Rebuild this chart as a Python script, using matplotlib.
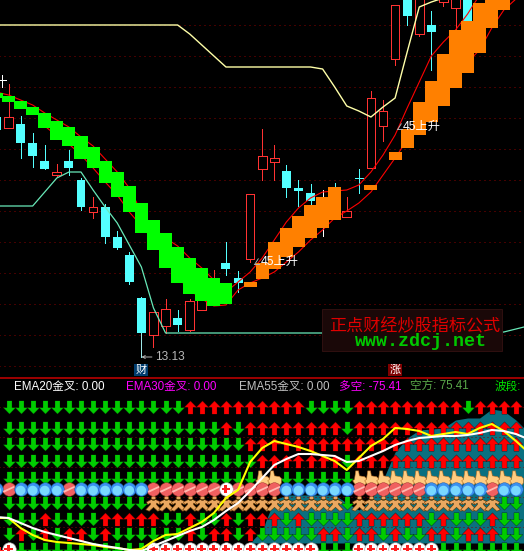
import numpy as np
import matplotlib
matplotlib.use("Agg")
import matplotlib.pyplot as plt
from matplotlib.path import Path
from matplotlib.patches import Rectangle

plt.rcParams['font.family'] = ['Liberation Sans', 'Noto Sans CJK SC', 'DejaVu Sans']

# K-line data, bar index / high / low / open / close
bar_idx = [-1, -0.54, 0, 1, 2, 3, 4, 5, 6, 7, 8, 9, 10, 11, 12, 13, 14, 15, 16, 17, 18, 19, 20,
           21, 22, 23, 24, 25, 26, 27, 28, 29, 30, 31, 32, 33, 34, 35, 36, 37, 38]
highs = [25.48, 27.23, 26.78, 25.18, 24.33, 23.73, 22.78, 23.48, 22.08, 21.13, 20.78, 19.43, 18.38, 16.13, 15.38,
         16.03, 15.48, 16.03, 16.33, 17.48, 18.88, 17.43, 21.28,
         24.53, 23.73, 22.73, 21.98, 21.78, 21.48, 21.83, 21.13, 22.53, 26.43, 25.98, 30.73, 31.23, 31.23, 30.43,
         31.23, 31.23, 31.23]
lows = [24.23, 26.63, 24.58, 23.08, 22.63, 22.53, 22.18, 22.23, 20.48, 20.08, 18.83, 18.53, 16.78, 13.13, 13.63,
        14.33, 14.43, 14.43, 15.48, 15.98, 17.23, 16.38, 17.88,
        21.98, 21.98, 21.13, 20.68, 20.73, 19.18, 20.23, 20.13, 21.33, 22.58, 23.93, 27.73, 29.73, 29.18, 27.48,
        30.68, 29.53, 29.73]
opens = [25.13, 26.98, 24.58, 24.78, 23.83, 22.93, 22.23, 22.93, 21.98, 20.38, 20.63, 19.13, 18.23, 16.08, 14.23,
         14.68, 15.08, 14.48, 15.48, 15.98, 17.83, 17.08, 18.03,
         22.53, 22.88, 22.43, 21.58, 21.33, 20.98, 21.48, 20.13, 22.08, 22.58, 24.68, 28.03, 31.23, 29.28, 29.73,
         30.88, 30.58, 31.23]
closes = [24.48, 26.98, 25.13, 23.83, 23.18, 22.53, 22.38, 22.58, 20.63, 20.63, 19.13, 18.58, 16.88, 14.33, 15.38,
          15.53, 14.73, 15.93, 16.33, 16.73, 17.53, 16.83, 21.28,
          23.18, 23.08, 21.58, 21.43, 20.93, 20.98, 20.98, 20.43, 22.08, 26.08, 25.43, 30.73, 30.18, 31.23, 29.38,
          31.23, 31.23, 29.93]

# band blocks, green going down and orange going up
green_idx = list(range(-1, 19))
green_top = [26.33, 26.18, 25.93, 25.63, 25.33, 24.93, 24.63, 24.18, 23.63, 22.93, 22.38, 21.68, 20.83, 19.98,
             19.33, 18.63, 18.08, 17.58, 17.08, 16.83]
green_bot = [26.08, 25.88, 25.53, 25.23, 24.58, 23.98, 23.68, 23.03, 22.58, 21.83, 21.13, 20.38, 19.33, 18.48,
             17.58, 16.83, 16.28, 15.93, 15.68, 15.78]
orange_idx = [20, 21, 22, 23, 24, 25, 26, 27, 30, 32, 33, 34, 35, 36, 37, 38, 39, 40, 41]
orange_top = [16.88, 17.83, 18.88, 19.58, 20.18, 20.73, 21.13, 21.63, 21.73, 23.38, 24.53, 25.88, 26.93, 28.28,
              29.48, 29.93, 30.83, 31.48, 31.98]
orange_bot = [16.63, 17.03, 17.53, 18.13, 18.63, 19.08, 19.58, 19.98, 21.48, 22.98, 23.58, 24.23, 24.88, 25.68,
              26.58, 27.33, 28.33, 29.58, 30.48]

# thin red averages
ma_upper_idx = list(range(-1, 41))
ma_upper = [26.38, 26.23, 25.98, 25.73, 25.33, 24.98, 24.63, 24.13, 23.68, 23.03, 22.38, 21.58, 20.38, 19.58, 19.08,
            18.68, 18.08, 17.58, 16.98, 16.38, 16.88, 17.38, 18.08, 18.98, 19.88, 20.58, 21.08, 21.38, 21.43, 21.48,
            21.73, 22.38, 23.23, 24.23, 25.58, 26.88, 28.18, 28.88, 29.48, 30.28, 31.23, 31.5]
ma_lower_idx = list(range(3, 43))
ma_lower = [24.68, 24.18, 23.78, 23.23, 22.58, 21.88, 21.23, 20.38, 19.68, 18.98, 18.08, 17.13, 16.48, 16.03, 15.68,
            15.73, 16.48, 16.83, 17.08, 17.38, 17.88, 18.38, 18.98, 19.48, 20.08, 20.43, 20.83, 21.38, 22.23, 23.08,
            23.98, 25.08, 25.98, 26.73, 27.48, 27.88, 28.48, 29.58, 30.48, 31.03]

pale_idx = list(range(-1, 37))
pale_line = [29.73] * 16 + [29.28, 28.73, 28.18] + [27.63] * 8 + [27.53, 26.63, 25.68, 25.43, 25.13, 25.63, 26.08,
                                                                   28.38, 30.63, 30.88, 31.08]
mint_idx = list(range(-1, 44))
mint_line = [20.68, 20.68, 20.68, 20.68, 21.38, 22.08, 22.38, 22.38, 21.48, 20.63, 19.83, 18.73, 17.63, 15.58] \
            + [14.33] * 28 + [14.38, 14.53, 14.68]

grid_prices = [29.72, 28.17, 26.62, 25.07, 23.52, 21.97, 20.42, 18.87, 17.32, 15.77, 14.22, 12.67]

# lower panel
sub_idx = list(range(-1, 44))
sub_yellow = [33, 33, 23, 16, 11, 9, 8, 7, 6, 4, 3, 1, 2, 10, 16, 17, 23, 29, 38, 53, 61, 89, 103, 110, 107, 104, 100,
              95, 90, 81, 93, 105, 112, 123, 122, 120, 115, 117, 119, 117, 123, 127, 120, 110, 99]
sub_white = [34, 33, 28, 23, 19, 16, 13, 10, 7, 5, 3, 1, 0, 5, 10, 15, 20, 24, 31, 40, 48, 60, 73, 86, 92, 97, 97, 96,
             95, 89, 90, 95, 100, 106, 110, 113, 114, 115, 115, 116, 118, 121, 120, 117, 112]
mountain_idx = list(range(20, 44))
mountain = [8, 21, 51, 56, 56, 56, 56, 56, 48, 41, 51, 71, 99, 113, 121, 122, 123, 131, 133, 133, 142, 140, 131, 119]
sub_grid = [144, 114, 84, 54, 24]

# signal rows: D down, U up, H hand, F figure, C cross ball
signal_rows = {
    144: "D" * 15 + "U" * 6 + "UUUUDDDDUUUUUUUUUDUUUU",
    123: "D" * 18 + "UDU" + "U" * 7 + "D" + "U" * 14,
    107: "D" * 20 + "U" * 23,
    90: "D" * 21 + "U" * 7 + "D" + "U" * 14,
    73: "D" * 21 + "HH" + "D" * 6 + "H" * 14,
    48: "D" * 12 + "F" * 16 + "D" + "F" * 12 + "DD",
    32: "DDDUDDDDUUUUUD" + "DUDDUDUUUDUDDDD" + "UUUUUUDUDDDUDD",
    17: "DUDUDUUDUDDDDD" + "DUDUUDUDDDDDUUD" + "UUDUDDUUDUUUDD",
    2: "C" + "D" * 11 + "C" * 14 + "DDD" + "C" * 7 + "D" * 7,
}
ball_level = 62
ball_row = "B" + "R" + "BBBB" + "R" + "B" * 6 + "R" * 6 + "W" + "R" * 4 + "B" * 6 + "R" * 6 + "B" * 5 + "R" + "BB"

RED = '#ff3232'
CYAN = '#54ffff'

fig = plt.figure(figsize=(5.24, 5.51), dpi=100, facecolor='black')
ax = fig.add_axes([0, 173 / 551, 1, 378 / 551])
sub = fig.add_axes([0, 0, 1, 173 / 551])
for a in (ax, sub):
    a.set_facecolor('black')
    a.set_xlim(-0.704, 42.67)
    a.axis('off')
ax.set_ylim(12.08, 30.98)
sub.set_ylim(0, 173)

ax.hlines(grid_prices, -1, 44, colors='#8a0000', linewidth=0.72, linestyles=(0, (1, 4)), zorder=1)

# candles
for x, h, l, o, c in zip(bar_idx, highs, lows, opens, closes):
    if x in (-0.54, 26):
        color = '#ffffff'
    elif c >= o and x != 29:
        color = RED
    else:
        color = CYAN
    ax.vlines(x, l, h, colors=color, linewidth=0.72, antialiased=False, zorder=2)
    if c > o:
        ax.bar(x, c - o, bottom=o, width=0.72, facecolor='black', edgecolor=color, linewidth=0.72, zorder=2.1,
               antialiased=False)
    elif c < o:
        ax.bar(x, o - c, bottom=c, width=0.74, facecolor=color, linewidth=0, zorder=2.1, antialiased=False)
    else:
        ax.hlines(c, x - 0.36, x + 0.36, colors=color, linewidth=0.72, antialiased=False, zorder=2.1)

ax.plot(ma_upper_idx, ma_upper, color='#ff0000', lw=0.8, zorder=3)
ax.plot(ma_lower_idx, ma_lower, color='#ff0000', lw=0.8, zorder=3)

ax.bar(green_idx, np.array(green_top) - np.array(green_bot), bottom=green_bot, width=1.08, color='#00ff00',
       linewidth=0, antialiased=False, zorder=4)
ax.bar(orange_idx, np.array(orange_top) - np.array(orange_bot), bottom=orange_bot, width=1.08, color='#ff8000',
       linewidth=0, antialiased=False, zorder=4)

ax.plot(pale_idx, pale_line, color='#ffffa8', lw=1.0, zorder=5)
ax.plot(mint_idx, mint_line, color='#68e8b8', lw=0.9, zorder=5)

# labels on the price panel
ax.text(20.2, 17.88, "∠", color='#b8b8b8', fontsize=6.5, family='DejaVu Sans', va='center', zorder=7)
ax.text(20.85, 17.88, "45上升", color='white', fontsize=8.8, va='center', zorder=7)
ax.text(32.0, 24.63, "∠", color='#b8b8b8', fontsize=6.5, family='DejaVu Sans', va='center', zorder=7)
ax.text(32.65, 24.63, "45上升", color='white', fontsize=8.8, va='center', zorder=7)
ax.annotate("13.13", xy=(11, 13.13), xytext=(12.1, 13.13), color='#b8b8b8', fontsize=8.6, va='center', zorder=7,
            arrowprops=dict(arrowstyle='->', color='#b8b8b8', lw=0.7, shrinkA=0, shrinkB=0, mutation_scale=5))
ax.vlines(11, 13.13, 14.33, colors='#9fe8e8', linewidth=0.72, zorder=2)
ax.text(11, 12.48, "财", color='white', fontsize=8, ha='center', va='center', zorder=7,
        bbox=dict(facecolor='#003c6e', edgecolor='none', pad=1.0))
ax.text(32, 12.48, "涨", color='white', fontsize=8, ha='center', va='center', zorder=7,
        bbox=dict(facecolor='#800000', edgecolor='none', pad=1.0))

# watermark box
fig.add_artist(Rectangle((322 / 524, 1 - 351 / 551), 180 / 524, 42 / 551, transform=fig.transFigure,
                         facecolor='#1a0808', edgecolor='#301010', linewidth=0.7, zorder=10))
fig.text(415 / 524, 1 - 326 / 551, "正点财经炒股指标公式", color='#e00000', fontsize=12.3, ha='center', va='center',
         family='Noto Sans CJK SC', fontweight='medium', zorder=11)
fig.text(421 / 524, 1 - 342 / 551, "www.zdcj.net", color='#00c800', fontsize=13.2, ha='center', va='center',
         family='Liberation Mono', fontweight='bold', zorder=11)

# panel separator and header texts
fig.add_artist(plt.Line2D([0, 1], [173 / 551, 173 / 551], color='#c80000', lw=1.1, zorder=9))
header = [(14, "EMA20金叉: 0.00", 'white'), (126, "EMA30金叉: 0.00", '#ff00ff'), (239, "EMA55金叉: 0.00", '#c0c0c0'),
          (339, "多空: -75.41", '#ff00ff'), (410, "空方: 75.41", '#5aa84a'), (495, "波段:", '#00e000')]
for x, s, c in header:
    fig.text(x / 524, 1 - 387 / 551, s, color=c, fontsize=8.4, va='center', zorder=11)

# lower panel
sub.fill_between(mountain_idx, 8, mountain, color='#0a7080', linewidth=0, zorder=1)
sub.hlines(sub_grid, -1, 44, colors='#8a0000', linewidth=0.72, linestyles=(0, (1, 3)), zorder=1.5)

arrow_up = Path([(0, 1), (0.95, 0.02), (0.38, 0.02), (0.38, -1), (-0.38, -1), (-0.38, 0.02), (-0.95, 0.02), (0, 1)])
arrow_down = Path([(0, -1), (0.95, -0.02), (0.38, -0.02), (0.38, 1), (-0.38, 1), (-0.38, -0.02), (-0.95, -0.02), (0, -1)])
person = Path.make_compound_path(
    Path.circle((0, 0.7), 0.3),
    Path([(-0.3, 0.5), (0.3, 0.5), (0.9, 0.2), (0.75, -0.15), (0.4, 0.05), (0.4, -0.15), (1, -0.8), (0.55, -1),
          (0, -0.5), (-0.55, -1), (-1, -0.8), (-0.4, -0.15), (-0.4, 0.05), (-0.75, -0.15), (-0.9, 0.2),
          (-0.3, 0.5)]))
hand = Path([(-0.5, 1), (-0.12, 1), (-0.02, 0.35), (0.65, 0.25), (0.9, 0), (0.9, -0.6), (0.6, -1), (-0.4, -1),
             (-0.9, -0.3), (-0.65, -0.1), (-0.5, 1)])
stripe = Path([(-0.85, -0.3), (0.8, 0.45), (0.85, 0.2), (-0.7, -0.55), (-0.85, -0.3)])

for level, row in signal_rows.items():
    xs = np.arange(len(row))
    chars = np.array(list(row))
    for ch, marker, face, edge, size, lw in [
        ('U', arrow_up, '#ff0000', 'black', 92, 0.2),
        ('D', arrow_down, '#00cc00', 'black', 92, 0.2),
        ('F', person, '#eaa860', '#5a3000', 125, 0.4),
        ('H', hand, '#ffcc80', '#b06820', 120, 0.4),
    ]:
        m = chars == ch
        sub.scatter(xs[m], np.full(m.sum(), level), marker=marker, s=size, facecolor=face, edgecolor=edge,
                    linewidth=lw, zorder=3)
    m = chars == 'C'
    sub.scatter(xs[m], np.full(m.sum(), level), marker='o', s=95, facecolor='white', edgecolor='#a0a0a0', linewidth=0.4,
                zorder=4)
    sub.scatter(xs[m], np.full(m.sum(), level), marker='P', s=40, facecolor='#ff2020', edgecolor='none', zorder=4.1)

ball_x = np.arange(-1, len(ball_row) - 1)
ball_chars = np.array(list(ball_row))
m = ball_chars == 'R'
sub.scatter(ball_x[m], np.full(m.sum(), ball_level), marker='o', s=95, facecolor='#f06060', edgecolor='#902020',
            linewidth=0.3, zorder=4)
sub.scatter(ball_x[m], np.full(m.sum(), ball_level), marker=stripe, s=70, facecolor='#ffb8b0', edgecolor='none', zorder=4.1)
m = ball_chars == 'B'
sub.scatter(ball_x[m], np.full(m.sum(), ball_level), marker='o', s=95, facecolor='#3a90f0', edgecolor='#18509a',
            linewidth=0.3, zorder=4)
sub.scatter(ball_x[m], np.full(m.sum(), ball_level - 1.5), marker='o', s=48, facecolor='#78d8ff', edgecolor='none', zorder=4.1)
m = ball_chars == 'W'
sub.scatter(ball_x[m], np.full(m.sum(), ball_level), marker='o', s=95, facecolor='white', edgecolor='#a0a0a0', linewidth=0.4,
            zorder=4)
sub.scatter(ball_x[m], np.full(m.sum(), ball_level), marker='P', s=40, facecolor='#ff2020', edgecolor='none', zorder=4.1)

sub.plot(sub_idx, sub_yellow, color='#ffff00', lw=1.5, zorder=6)
sub.plot(sub_idx, sub_white, color='white', lw=1.5, zorder=6.1)

fig.savefig("out.png", dpi=100, facecolor='black')
